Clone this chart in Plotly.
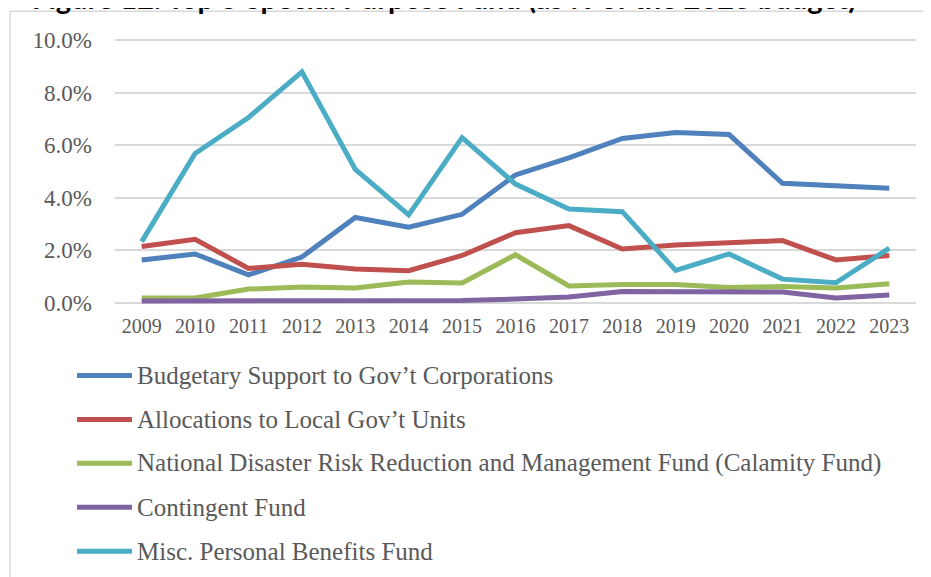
import plotly.graph_objects as go

years = ["2009", "2010", "2011", "2012", "2013", "2014", "2015", "2016",
         "2017", "2018", "2019", "2020", "2021", "2022", "2023"]

series_names = [
    "Budgetary Support to Gov’t Corporations",
    "Allocations to Local Gov’t Units",
    "National Disaster Risk Reduction and Management Fund (Calamity Fund)",
    "Contingent Fund",
    "Misc. Personal Benefits Fund",
]

budgetary_support = [1.63, 1.86, 1.06, 1.74, 3.25, 2.88, 3.37, 4.87, 5.52, 6.26, 6.49, 6.41, 4.55, 4.45, 4.36]
local_gov_units = [2.14, 2.42, 1.31, 1.47, 1.29, 1.22, 1.80, 2.67, 2.94, 2.05, 2.20, 2.29, 2.37, 1.63, 1.80]
calamity_fund = [0.18, 0.18, 0.52, 0.60, 0.56, 0.79, 0.75, 1.83, 0.64, 0.70, 0.70, 0.58, 0.62, 0.56, 0.72]
contingent_fund = [0.07, 0.07, 0.08, 0.06, 0.05, 0.05, 0.09, 0.14, 0.22, 0.43, 0.43, 0.41, 0.41, 0.18, 0.30]
personal_benefits = [2.33, 5.69, 7.06, 8.80, 5.08, 3.35, 6.29, 4.52, 3.57, 3.47, 1.23, 1.86, 0.90, 0.76, 2.08]

series_values = [budgetary_support, local_gov_units, calamity_fund, contingent_fund, personal_benefits]
colors = ["#4F81BD", "#C0504D", "#9BBB59", "#8064A2", "#4BACC6"]

y_ticks = [0, 2, 4, 6, 8, 10]
y_tick_labels = ["0.0%", "2.0%", "4.0%", "6.0%", "8.0%", "10.0%"]

title_text = "Figure 12. Top 5 Special Purpose Fund (as % of the 2023 budget)"

# page offset (browser body margin)
OFF = 8
W, H = 931, 577
ML, MR, MT, MB = 115 - OFF, 23, 38.7 - OFF, 577 - (308.3 - OFF)
PW, PH = W - ML - MR, H - MT - MB


def px_x(px):
    return (px - OFF - ML) / PW


def px_y(py):
    return (H - MB - (py - OFF)) / PH


SERIF = "Liberation Serif"
TXT = "#595959"

fig = go.Figure()
for name, vals, col in zip(series_names, series_values, colors):
    fig.add_trace(go.Scatter(
        x=years, y=vals, name=name, mode="lines",
        line=dict(color=col, width=5), showlegend=False,
    ))

shapes = [
    dict(type="rect", xref="paper", yref="paper",
         x0=px_x(10), x1=px_x(980), y0=px_y(11), y1=px_y(620),
         line=dict(color="#D9D9D9", width=1.5), layer="below"),
]
annotations = [
    dict(text="<b>" + title_text + "</b>", xref="paper", yref="paper",
         x=px_x(858), y=px_y(17), xanchor="right", yanchor="bottom",
         showarrow=False, font=dict(family="Lato", size=29, color="#000000")),
]

row_y = [376, 420, 464, 508, 552]
for name, col, ry in zip(series_names, colors, row_y):
    shapes.append(dict(type="line", xref="paper", yref="paper",
                       x0=px_x(77), x1=px_x(132), y0=px_y(ry), y1=px_y(ry),
                       line=dict(color=col, width=5)))
    annotations.append(dict(text=name, xref="paper", yref="paper",
                            x=px_x(135), y=px_y(ry), xanchor="left", yanchor="middle",
                            showarrow=False, font=dict(family=SERIF, size=25, color=TXT)))

fig.update_layout(
    width=W, height=H,
    margin=dict(l=ML, r=MR, t=MT, b=MB, pad=0),
    paper_bgcolor="white", plot_bgcolor="white",
    shapes=shapes, annotations=annotations,
    xaxis=dict(type="category", range=[-0.5, 14.5], showgrid=False, zeroline=False,
               showline=False, ticks="", tickfont=dict(family=SERIF, size=20, color=TXT),
               ticklabelstandoff=4),
    yaxis=dict(range=[-0.2, 10.05], tickvals=y_ticks, ticktext=y_tick_labels,
               showgrid=True, gridcolor="#D9D9D9", gridwidth=1.5, zeroline=False,
               showline=False, ticks="", tickfont=dict(family=SERIF, size=23, color=TXT),
               ticklabelstandoff=22),
)

fig.write_html("out.html")
